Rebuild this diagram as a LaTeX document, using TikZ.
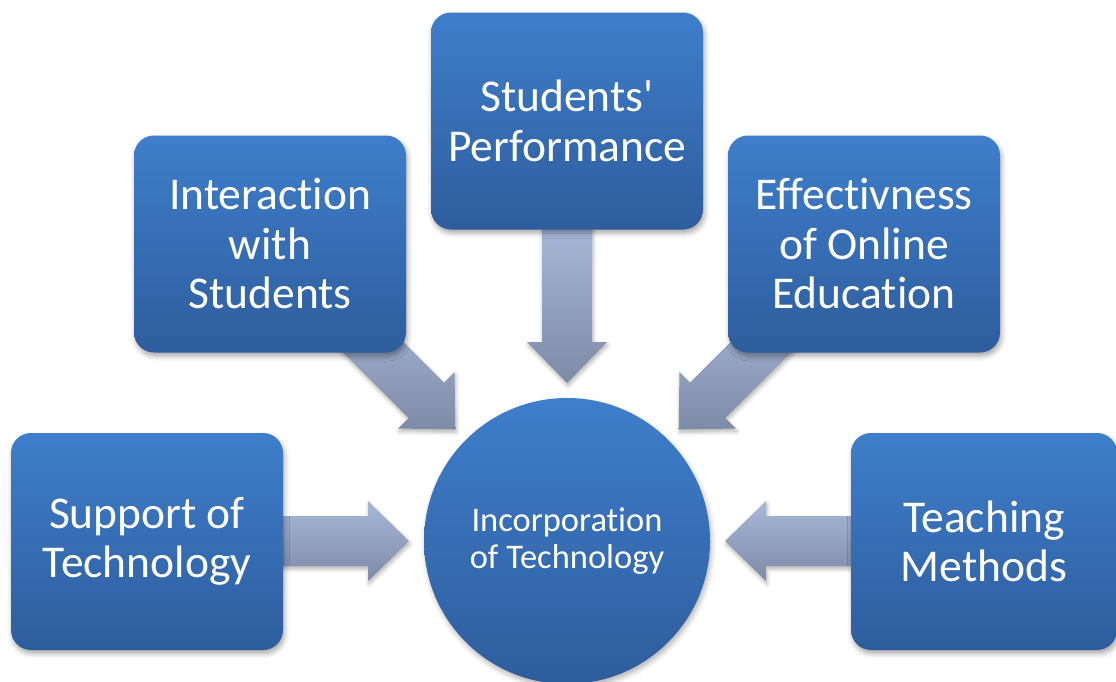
\documentclass[tikz,border=0pt]{standalone}
\usepackage{fontspec}
\setmainfont{Carlito}[Ligatures={TeXOff,CommonOff}]
\usetikzlibrary{calc,shadows.blur}
\pgfdeclarelayer{bg}
\pgfsetlayers{bg,main}
\definecolor{boxtop}{HTML}{3E7ECB}
\definecolor{boxbot}{HTML}{2E5D9D}
\definecolor{arrtop}{HTML}{A8B8D8}
\definecolor{arrbot}{HTML}{7E8BA7}
\tikzset{
  topic/.style={rectangle, rounded corners=20pt, minimum width=272pt, minimum height=217pt,
    top color=boxtop, bottom color=boxbot, text=white, align=center, inner sep=0pt,
    font=\fontsize{45.5pt}{49.5pt}\selectfont,
    blur shadow={shadow xshift=1.5pt, shadow yshift=-3.5pt, shadow blur radius=5pt, shadow opacity=35}},
  hub/.style={circle, minimum size=286pt, inner sep=0pt,
    top color=boxtop, bottom color=boxbot, text=white, align=center,
    font=\fontsize{34.5pt}{37pt}\selectfont,
    blur shadow={shadow xshift=1.5pt, shadow yshift=-3.5pt, shadow blur radius=5pt, shadow opacity=30}},
  blockarrow/.style={top color=arrtop, bottom color=arrbot, draw=none,
    blur shadow={shadow xshift=1pt, shadow yshift=-3pt, shadow blur radius=4pt, shadow opacity=30}}
}
% #1 = direction of the arrow (pixel frame, y down), #2 = length
\newcommand\blkarrow[2]{%
  \path[blockarrow]
    ($(core)+(#1+180:158)+(#1+180:#2)+(#1+90:25)$) --
    ($(core)+(#1+180:158)+(#1+180:41)+(#1+90:25)$) --
    ($(core)+(#1+180:158)+(#1+180:41)+(#1+90:40)$) --
    ($(core)+(#1+180:158)$) --
    ($(core)+(#1+180:158)+(#1+180:41)+(#1-90:40)$) --
    ($(core)+(#1+180:158)+(#1+180:41)+(#1-90:25)$) --
    ($(core)+(#1+180:158)+(#1+180:#2)+(#1-90:25)$) -- cycle;}
\begin{document}
\begin{tikzpicture}[x=1pt,y=-1pt]
\useasboundingbox (0,0) rectangle (1116,681);
\node[hub] (core) at (567,541) {Incorporation\\of Technology};
\node[topic] (support) at (147,541.5) {Support of\\Technology};
\node[topic] (interact) at (270,244) {Interaction\\with\\Students};
\node[topic] (perf) at (567,121) {Students'\\Performance};
\node[topic] (effect) at (864,244) {Effectivness\\of Online\\Education};
\node[topic, minimum width=266pt] (teach) at (984,541.5) {Teaching\\Methods};
\begin{pgfonlayer}{bg}
  \blkarrow{0}{160}
  \blkarrow{45}{160}
  \blkarrow{90}{160}
  \blkarrow{135}{160}
  \blkarrow{180}{160}
\end{pgfonlayer}
\end{tikzpicture}
\end{document}
